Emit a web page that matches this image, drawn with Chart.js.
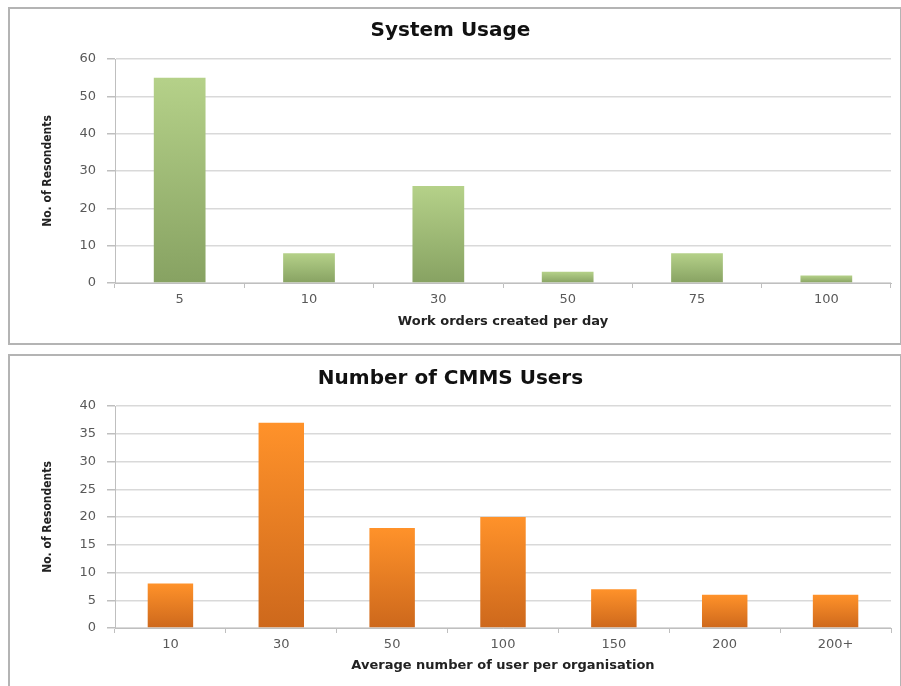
<!DOCTYPE html>
<html lang="en">
<head>
  <meta charset="UTF-8">
  <title>System Usage / Number of CMMS Users</title>
  <style>
    body {
      margin: 0;
      background: #fff;
      width: 901px;
      height: 686px;
      overflow: hidden;
      position: relative;
    }
    .panel {
      position: absolute;
      left: 8px;
      width: 890px;
      border: 2px solid #b4b4b4;
      background: #fff;
    }
    #panelTop { top: 7px; height: 334px; }
    #panelBottom { top: 354px; height: 340px; }
    canvas { position: absolute; left: 0; top: 0; }
  </style>
</head>
<body>

  <div class="panel" id="panelTop"><canvas id="usageChart" width="890" height="334"></canvas></div>
  <div class="panel" id="panelBottom"><canvas id="usersChart" width="890" height="330"></canvas></div>

  <script src="https://cdn.jsdelivr.net/npm/chart.js"></script>
  <script>
    // System Usage
    const workOrders = ["5", "10", "30", "50", "75", "100"];
    const usageCounts = [55, 8, 26, 3, 8, 2];
    const usageTicks = [0, 10, 20, 30, 40, 50, 60];

    // Number of CMMS Users
    const userGroups = ["10", "30", "50", "100", "150", "200", "200+"];
    const userCounts = [8, 37, 18, 20, 7, 6, 6];
    const userTicks = [0, 5, 10, 15, 20, 25, 30, 35, 40];

    // per-bar vertical gradient, light at the top, darker at the base
    const barGradient = (light, dark) => (context) => {
      const chart = context.chart;
      if (!chart.chartArea || context.raw === undefined) return light;
      const y = chart.scales.y;
      const top = y.getPixelForValue(context.raw);
      const bottom = y.getPixelForValue(0);
      if (!(bottom > top)) return light;
      const g = chart.ctx.createLinearGradient(0, top, 0, bottom);
      g.addColorStop(0, light);
      g.addColorStop(1, dark);
      return g;
    };

    function makeChart(id, title, labels, values, ticks, xTitle, light, dark, opts) {
      const ctx = document.getElementById(id).getContext('2d');
      return new Chart(ctx, {
        type: 'bar',
        data: {
          labels: labels,
          datasets: [{
            data: values,
            backgroundColor: barGradient(light, dark),
            borderWidth: 0,
            categoryPercentage: 1,
            barPercentage: opts.barPct
          }]
        },
        options: {
          responsive: false,
          animation: false,
          events: [],
          layout: { padding: { left: 0, right: 9, top: 0, bottom: 0 } },
          plugins: {
            legend: { display: false },
            tooltip: { enabled: false },
            title: {
              display: true,
              text: title,
              color: '#111',
              font: { family: 'DejaVu Sans', size: 20, weight: 'bold' },
              padding: { top: opts.titleTop, bottom: opts.titleBottom }
            }
          },
          scales: {
            x: {
              afterFit: (s) => { s.height = opts.xHeight; },
              grid: {
                offset: true,
                drawOnChartArea: false,
                drawTicks: true,
                tickLength: 5,
                color: '#bfbfbf'
              },
              border: { color: '#bfbfbf', width: 1 },
              ticks: {
                color: '#595959',
                padding: 4,
                font: { family: 'DejaVu Sans', size: 13 }
              },
              title: {
                display: true,
                text: xTitle,
                color: '#222',
                font: { family: 'DejaVu Sans', size: 13, weight: 'bold' },
                padding: { top: 0, bottom: opts.xTitlePad }
              }
            },
            y: {
              min: ticks[0],
              max: ticks[ticks.length - 1],
              afterFit: (s) => { s.width = 105; },
              afterBuildTicks: (s) => { s.ticks = ticks.map(v => ({ value: v })); },
              grid: {
                color: '#d9d9d9',
                lineWidth: 1.5,
                tickLength: 8,
                tickColor: '#bfbfbf'
              },
              border: { color: '#bfbfbf', width: 1 },
              ticks: {
                color: '#595959',
                padding: 11,
                font: { family: 'DejaVu Sans', size: 13 }
              },
              title: {
                display: true,
                text: 'No. of Resondents',
                color: '#222',
                font: { family: "'DejaVu Sans Condensed', 'Liberation Sans', sans-serif", size: 12, weight: 'bold' },
                padding: { top: 31, bottom: 0 }
              }
            }
          }
        }
      });
    }

    makeChart('usageChart', 'System Usage', workOrders, usageCounts, usageTicks,
      'Work orders created per day', '#b5d189', '#87a262',
      { barPct: 0.4, titleTop: 10, titleBottom: 16, xHeight: 60, xTitlePad: 14 });

    makeChart('usersChart', 'Number of CMMS Users', userGroups, userCounts, userTicks,
      'Average number of user per organisation', '#ff922a', '#cd681c',
      { barPct: 0.41, titleTop: 11, titleBottom: 15, xHeight: 58, xTitlePad: 13 });
  </script>

</body>
</html>
